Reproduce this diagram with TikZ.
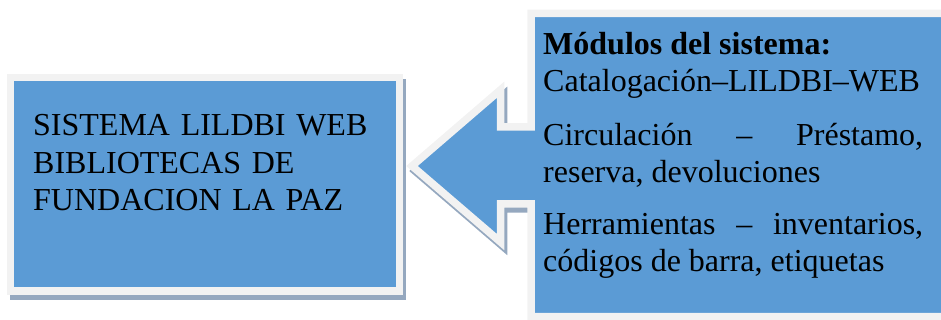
\documentclass[tikz,border=0pt]{standalone}
\usepackage{fontspec}
\setmainfont{Liberation Serif}
\definecolor{boxblue}{HTML}{5B9BD5}
\definecolor{rimgray}{HTML}{F2F2F2}
\definecolor{shadowgray}{HTML}{95A8BF}
\tikzset{
  rim/.style={fill=boxblue, draw=rimgray, line width=7.5pt, line join=miter},
  shade/.style={fill=shadowgray, draw=shadowgray, line width=7.5pt, line join=miter, shift={(3,5)}},
  bodytext/.style={inner sep=0pt, anchor=base west, text width=380pt, align=justify,
    font=\fontsize{32}{37}\selectfont},
  lefttext/.style={inner sep=0pt, anchor=base west, text width=360pt, align=left,
    font=\fontsize{32}{37.5}\selectfont}
}
\hyphenpenalty=10000
\exhyphenpenalty=10000
\tolerance=10000
\begin{document}
\begin{tikzpicture}[x=1pt, y=-1pt]
\useasboundingbox (0,0) rectangle (941,320);
% left box
\draw[shade] (10.5,77.5) rectangle (399.5,291);
\draw[rim] (10.5,77.5) rectangle (399.5,291);
% right callout with left arrow
\draw[shade] (531,13.5) -- (950,13.5) -- (950,316.5) -- (531,316.5) -- (531,204) -- (500.5,204) -- (500.5,242) -- (412,166) -- (500.5,89.8) -- (500.5,127) -- (531,127) -- cycle;
\draw[rim] (531,13.5) -- (950,13.5) -- (950,316.5) -- (531,316.5) -- (531,204) -- (500.5,204) -- (500.5,242) -- (412,166) -- (500.5,89.8) -- (500.5,127) -- (531,127) -- cycle;
\node[lefttext] (sistema) at (33,136) {SISTEMA LILDBI WEB\\BIBLIOTECAS DE\\FUNDACION LA PAZ};
\node[bodytext] (modulos) at (543,55) {\textbf{Módulos del sistema:}\\Catalogación–LILDBI–WEB};
\node[bodytext] (circ) at (543,146) {Circulación – Préstamo, reserva, devoluciones};
\node[bodytext] (herr) at (543,234) {Herramientas – inventarios, códigos de barra, etiquetas};
\end{tikzpicture}
\end{document}
